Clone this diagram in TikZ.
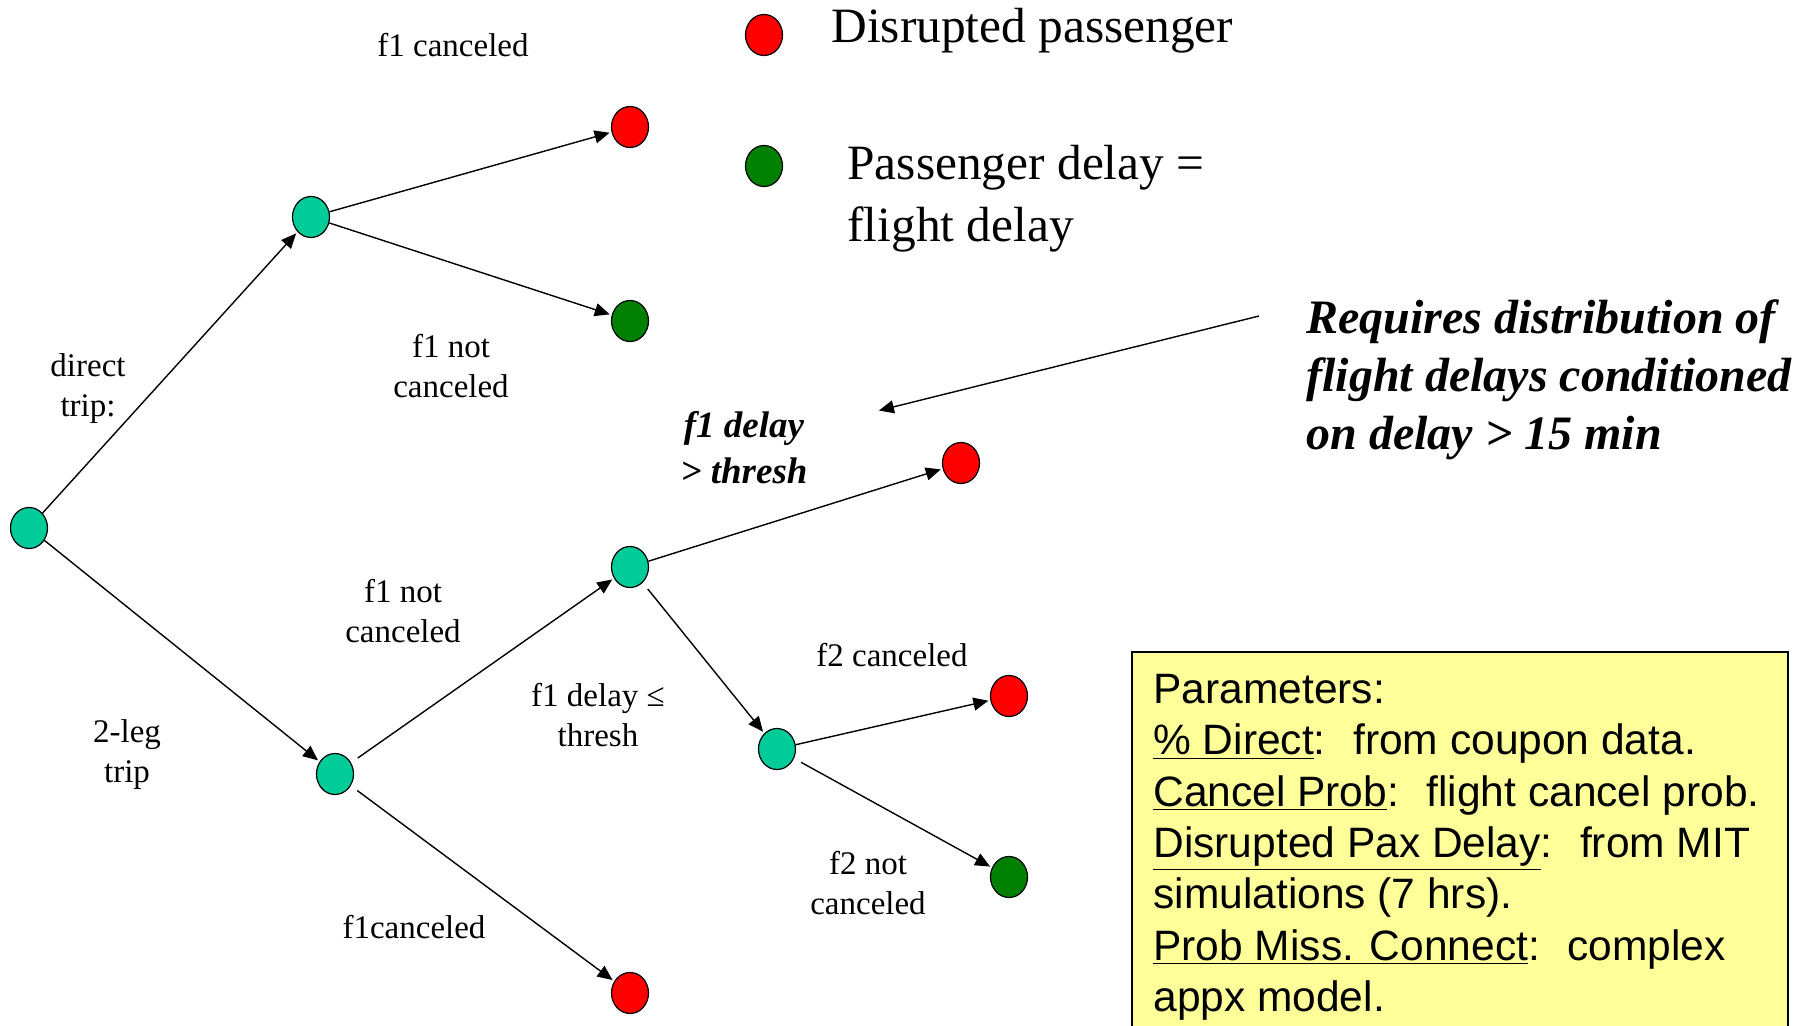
\documentclass[tikz,border=0pt]{standalone}
\usepackage{fontspec}
\setmainfont{Liberation Serif}
\setsansfont{Liberation Sans}
\usepackage{tikz}
\usetikzlibrary{arrows.meta,shapes.geometric}
\definecolor{forkteal}{HTML}{00CC99}
\definecolor{lostred}{HTML}{FF0000}
\definecolor{keptgreen}{HTML}{008000}
\definecolor{notebox}{HTML}{FFFF99}

\begin{document}
\begin{tikzpicture}[x=.5pt,y=-.5pt,
    knot/.style={ellipse, draw, line width=.6pt, minimum width=18.5pt, minimum height=20.5pt, inner sep=0pt},
    fork/.style={knot, fill=forkteal},
    lost/.style={knot, fill=lostred},
    kept/.style={knot, fill=keptgreen},
    edge/.style={-{Triangle[length=7.5pt,width=6.5pt]}, line width=.7pt, shorten >=1pt},
    lbl/.style={font=\fontsize{16.5}{20}\selectfont, align=center, inner sep=0pt},
    keytext/.style={font=\fontsize{24.7}{31}\selectfont, inner sep=0pt}]
  \useasboundingbox (0,0) rectangle (1815,1026);

  % tree
  \node[fork] (root) at (29,528) {};
  \node[fork] (direct) at (311,217) {};
  \node[lost] (directcx) at (630,127) {};
  \node[kept] (directok) at (630,321) {};
  \node[fork] (twoleg) at (335,774) {};
  \node[lost] (legcx) at (630,993) {};
  \node[fork] (legok) at (630,567) {};
  \node[lost] (late) at (961,463) {};
  \node[fork] (ontime) at (777,749) {};
  \node[lost] (f2cx) at (1009,696) {};
  \node[kept] (f2ok) at (1009,877) {};

  \draw[edge] (root) -- (direct);
  \draw[edge] (direct) -- (directcx);
  \draw[edge] (direct) -- (directok);
  \draw[edge] (root) -- (twoleg);
  \draw[edge, shorten <=4pt] (twoleg) -- (legok);
  \draw[edge, shorten <=4pt] (twoleg) -- (legcx);
  \draw[edge] (legok) -- (late);
  \draw[edge, shorten <=4pt] (legok) -- (ontime);
  \draw[edge] (ontime) -- (f2cx);
  \draw[edge, shorten <=4pt] (ontime) -- (f2ok);

  % branch labels
  \node[lbl] (lbldirect) at (88,389) {direct\\trip:};
  \node[lbl] (lbltwoleg) at (127,755) {2-leg\\trip};
  \node[lbl] (lblcx) at (453,45) {f1 canceled};
  \node[lbl] (lblok) at (451,366) {f1 not\\canceled};
  \node[lbl] (lbllegok) at (403,611) {f1 not\\canceled};
  \node[lbl] (lbllegcx) at (414,927) {f1canceled};
  \node[lbl, font=\fontsize{18.5}{23}\selectfont\bfseries\itshape] (lbllate) at (744,448) {f1 delay\\> thresh};
  \node[lbl] (lblontime) at (598,715) {f1 delay ≤\\thresh};
  \node[lbl] (lblf2cx) at (892,655) {f2 canceled};
  \node[lbl] (lblf2ok) at (868,883) {f2 not\\canceled};

  % legend
  \node[lost] (keyred) at (764,35) {};
  \node[kept] (keygreen) at (764,166) {};
  \node[keytext, anchor=base west] (keyredtext) at (831,43) {Disrupted passenger};
  \node[keytext, anchor=north west, align=left] (keygreentext) at (847,145) {Passenger delay =\\flight delay};

  % note on the late branch
  \node[anchor=north west, align=left, inner sep=0pt, font=\fontsize{24}{29}\selectfont\bfseries\itshape] (note) at (1306,299)
    {Requires distribution of\\flight delays conditioned\\on delay > 15 min};
  \coordinate (notefrom) at (1259,316);
  \coordinate (noteto) at (877,411);
  \draw[edge] (notefrom) -- (noteto);

  % parameters box
  \draw[fill=notebox, line width=1pt] (1132,652) rectangle (1788,1040);
  \node[anchor=north west, align=left, inner sep=0pt, font=\sffamily\fontsize{21.25}{25.65}\selectfont] (params) at (1153,674)
    {Parameters:\\
     \underline{\% Direct}:~ from coupon data.\\
     \underline{Cancel Prob}:~ flight cancel prob.\\
     \underline{Disrupted Pax Delay}:~ from MIT\\
     simulations (7 hrs).\\
     \underline{Prob Miss. Connect}:~ complex\\
     appx model.};
\end{tikzpicture}
\end{document}
